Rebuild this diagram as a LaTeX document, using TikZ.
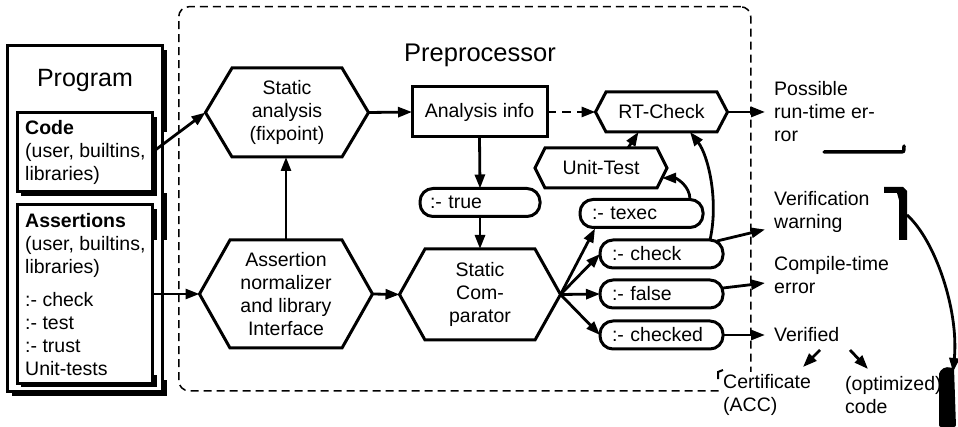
\documentclass[tikz,border=0pt]{standalone}
\usepackage{fontspec}
\setmainfont{Liberation Sans}
\usetikzlibrary{arrows.meta,calc}

\newcommand\hexnode[7]{% name, x, y, inner width, height, point depth, text
  \node[hextext, minimum width=#4pt, minimum height=#5pt] (#1) at (#2,#3) {#7};
  \coordinate (#1-l) at ($(#1.west)+(-#6,0)$);
  \coordinate (#1-r) at ($(#1.east)+(#6,0)$);
  \draw[shp] (#1.north west) -- (#1.north east) -- (#1-r) -- (#1.south east) -- (#1.south west) -- (#1-l) -- cycle;
}

\begin{document}
\begin{tikzpicture}[x=1pt,y=-1pt,
  font=\fontsize{19.5}{23}\selectfont,
  shp/.style={line width=3pt, line join=miter},
  arr/.style={line width=2.8pt, -{Triangle[length=14pt,width=10pt]}},
  hextext/.style={inner sep=0pt, outer sep=0pt, align=center},
  boxx/.style={draw, line width=3pt, inner sep=0pt, outer sep=0pt},
  pill/.style={draw, line width=3pt, rounded corners=13pt, minimum height=28pt,
    inner ysep=0pt, inner xsep=12pt, text width=99pt, align=left, outer sep=0pt},
  outtxt/.style={inner xsep=9pt, inner ysep=0pt, align=left, anchor=west},
  txt/.style={inner sep=0pt, align=left, anchor=west},
]
\useasboundingbox (0,0) rectangle (958,427);

% Preprocessor dashed frame
\node[draw, line width=1.5pt, dash pattern=on 8pt off 5pt, rounded corners=10pt,
  minimum width=572pt, minimum height=384pt, anchor=north west, inner sep=0pt] (pp) at (178,6) {};
\node[font=\fontsize{25.5}{30}\selectfont, inner sep=0pt] (ppt) at (480,55) {Preprocessor};

% Program box with broken shadows
\fill (162,50) rectangle (167,132);
\fill (162,193) rectangle (167,240);
\fill (162,380) rectangle (167,396);
\fill (12,391) rectangle (167,396);
\node[boxx, minimum width=155pt, minimum height=345pt, anchor=north west] (prog) at (7,46) {};
\node[font=\fontsize{25}{30}\selectfont, inner sep=0pt] (progt) at (85,80.5) {Program};

% Code box
\fill (152,117) rectangle (157,196);
\fill (21,192) rectangle (157,196);
\node[boxx, fill=white, minimum width=135pt, minimum height=79pt, anchor=north west] (code) at (17,113) {};
\node[txt] (codet) at (25,152.5) {\textbf{Code}\\(user, builtins,\\libraries)};

% Assertions box
\fill (152,209) rectangle (157,240);
\fill (152,375) rectangle (157,387);
\fill (21,383) rectangle (157,387);
\node[boxx, fill=white, minimum width=135pt, minimum height=178pt, anchor=north west] (asr) at (17,205) {};
\node[txt] (asrt) at (25,294.5) {\textbf{Assertions}\\(user, builtins,\\libraries)\\[10pt]:- check\\:- test\\:- trust\\Unit-tests};

% Hexagons
\hexnode{sa}{287}{112.5}{110}{89}{26.5}{Static\\analysis\\(fixpoint)}
\hexnode{nm}{286}{294}{112}{108}{30.5}{Assertion\\normalizer\\and library\\Interface}
\hexnode{cmp}{480}{294.5}{110}{91}{25.5}{Static\\Com-\\parator}
\hexnode{rt}{661.5}{112}{111}{40}{10.5}{RT-Check}
\hexnode{ut}{601}{168}{112}{40}{10}{Unit-Test}

% Analysis info
\node[boxx, minimum width=135pt, minimum height=50pt] (ai) at (479.5,112) {Analysis info};

% Pills
\node[pill, text width=100pt, inner xsep=10pt] (tru) at (480,202.5) {:- true};
\node[pill] (tex) at (641.5,213.5) {:- texec};
\node[pill] (chk) at (661.5,254) {:- check};
\node[pill] (fls) at (661.5,294) {:- false};
\node[pill] (chd) at (661.5,335) {:- checked};

% Outputs
\node[outtxt] (pre) at (765,112) {Possible\\run-time er-\\ror};
\node[outtxt] (vw) at (765,211.5) {Verification\\warning};
\node[outtxt] (cte) at (765,275) {Compile-time\\error};
\node[outtxt] (ver) at (765,335) {Verified};
\node[fill=white, inner xsep=3pt, inner ysep=2pt, align=left, anchor=west] (cert) at (720,395) {Certificate\\(ACC)};
\node[txt] (opt) at (845,395) {(optimized)\\code};

% Connectors
\draw[arr] (code.east) -- (sa-l);
\draw[arr] (asr.east |- nm-l) -- (nm-l);
\draw[arr] (nm.north) -- (nm.north |- sa.south);
\draw[arr] (sa-r) -- (ai.west);
\draw[arr, dash pattern=on 9pt off 6pt] (ai.east) -- (rt-l);
\draw[arr] (ai.south) -- (tru.north);
\draw[arr] (tru.south) -- (cmp.north);
\draw[arr] (nm-r) -- (cmp-l);
\draw[arr] (cmp-r) -- ($(tex.south west)+(15,1)$);
\draw[arr] (cmp-r) -- (chk.west);
\draw[arr] (cmp-r) -- (fls.west);
\draw[arr] (cmp-r) -- (chd.west);
\draw[arr] ($(ut.north)+(27,0)$) -- ($(rt.south)+(-23,0)$);
\draw[arr] ($(tex.north east)+(-13,0)$) .. controls +(0,-14) and +(14,0) .. ($(ut-r)!0.5!(ut.south east)$);
\draw[arr] ($(chk.north east)+(-13,0)$) .. controls +(9,-40) and +(18,23) .. ($(rt.south east)+(-27,0)$);
\draw[arr] (rt-r) -- (pre.west);
\draw[arr] ($(chk.north east)+(-6,1)$) -- ($(vw.west)+(0,18)$);
\draw[arr] ($(fls.east)+(0,-6)$) -- ($(cte.west)+(0,8)$);
\draw[arr] (chd.east) -- (ver.west);

\coordinate (v1) at (820,350);
\coordinate (v2) at (803,367);
\coordinate (v3) at (850,350);
\coordinate (v4) at (868,369);
\draw[arr] (v1) -- (v2);
\draw[arr] (v3) -- (v4);

\coordinate (arcS) at (907,215);
\coordinate (arcE) at (953,372);
\draw[arr] (arcS) .. controls (935,240) and (959,310) .. (arcE);

% stray black marks of the reference
\draw[line width=3.5pt, line cap=round] (824,152) -- (899,152) .. controls (904,152) .. (904,146);
\fill (884,187) -- (903,187) -- (907,191) -- (907,240) -- (899,240) -- (899,200) -- (897,193) -- (884,193) -- cycle;
\fill[rounded corners=2pt] (939,372) -- (945,367) -- (954,368) -- (956,427) -- (939,427) -- cycle;
\draw[line width=2pt] (718,379) -- (718,372) -- (723,370);
\end{tikzpicture}
\end{document}
